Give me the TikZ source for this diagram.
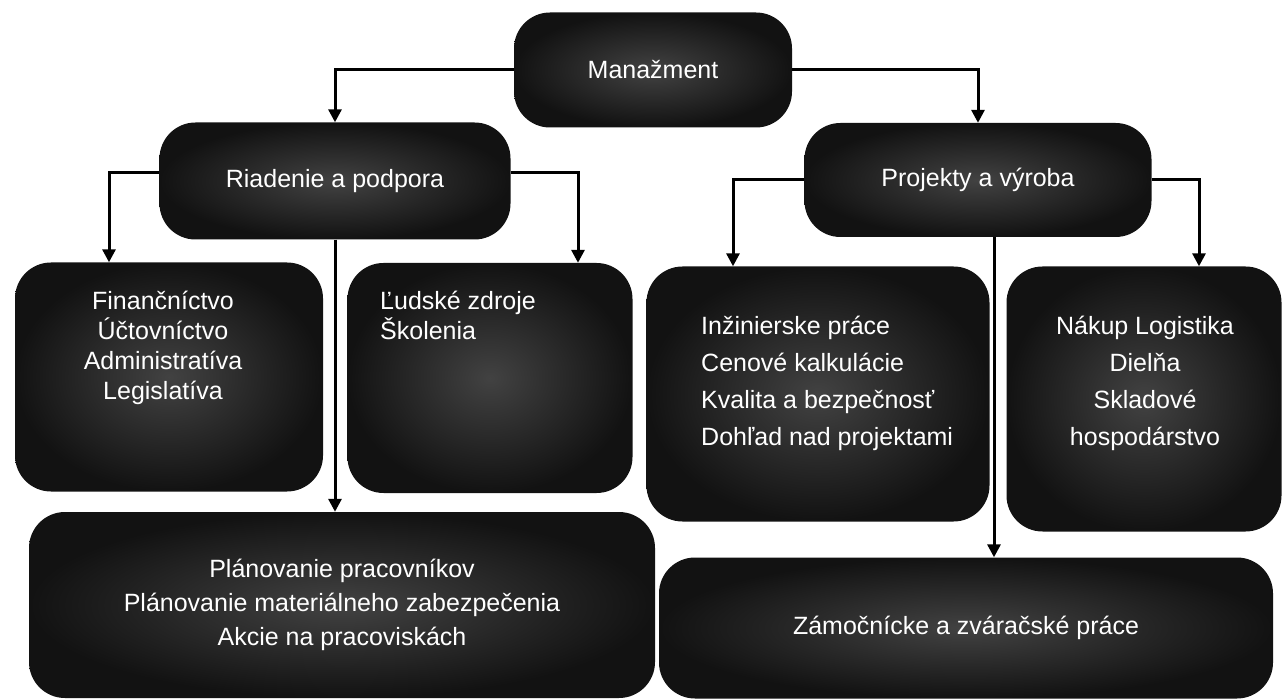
\documentclass[tikz,border=0pt]{standalone}
\usepackage{fontspec}
\setmainfont{Liberation Sans}
\usepackage{tikz}
\usetikzlibrary{arrows.meta,shapes,positioning}
\usepackage{xcolor}
\definecolor{boxdark}{RGB}{18,18,18}
\definecolor{boxmid}{RGB}{66,66,66}
\tikzstyle{box} = [rounded corners=36pt, inner sep=0pt, inner color=boxmid, outer color=boxdark, text=white, align=center, font=\fontsize{25}{34}\selectfont]
\tikzstyle{list} = [inner sep=0pt, text=white, font=\fontsize{25}{30}\selectfont]
\tikzstyle{widelist} = [inner sep=0pt, text=white, font=\fontsize{25}{37}\selectfont]
\tikzstyle{arrow} = [line width=3pt,-{Triangle[width=13pt,length=13pt]},color=black]

\begin{document}
\begin{tikzpicture}[x=1pt,y=-1pt]
\useasboundingbox (0,0) rectangle (1283,700);
% top level
\node[box, minimum width=278pt, minimum height=115pt] (man) at (653,70) {Manažment};
\node[box, minimum width=351pt, minimum height=117pt] (riad) at (335,181) {Riadenie a podpora};
\node[box, minimum width=347pt, minimum height=114pt] (proj) at (978,180) {Projekty a výroba};

% Riadenie a podpora column
\node[box, minimum width=308pt, minimum height=229pt] (fin) at (169,377) {};
\node[list, anchor=north, align=center] (fintext) at (163,291) {Finančníctvo\\Účtovníctvo\\Administratíva\\Legislatíva};
\node[box, minimum width=285pt, minimum height=230pt] (lud) at (490,378) {};
\node[list, anchor=north west, align=left] (ludtext) at (380,291) {Ľudské zdroje\\Školenia};
\node[box, minimum width=626pt, minimum height=186pt] (plan) at (342,605) {Plánovanie pracovníkov\\Plánovanie materiálneho zabezpečenia\\Akcie na pracoviskách};

% Projekty a vyroba column
\node[box, minimum width=343pt, minimum height=255pt] (inz) at (818,394) {};
\node[widelist, anchor=north west, align=left] (inztext) at (701,316) {Inžinierske práce\\Cenové kalkulácie\\Kvalita a bezpečnosť\\Dohľad nad projektami};
\node[box, minimum width=275pt, minimum height=265pt] (nak) at (1144,399) {};
\node[widelist, anchor=north, align=center] (naktext) at (1145,316) {Nákup Logistika\\Dielňa\\Skladové\\hospodárstvo};
\node[box, minimum width=614pt, minimum height=141pt] (zam) at (966,628) {Zámočnícke a zváračské práce};

% connectors
\draw[arrow] (man.west) -| (riad.north);
\draw[arrow] (man.east) -| (proj.north);
\draw[arrow] ([yshift=8pt]riad.west) -| ([xshift=-60pt]fin.north);
\draw[arrow] ([yshift=8pt]riad.east) -| ([xshift=88pt]lud.north);
\draw[arrow] (riad.south) -- (riad.south |- plan.north);
\draw[arrow] (proj.west) -| ([xshift=-85pt]inz.north);
\draw[arrow] (proj.east) -| ([xshift=55pt]nak.north);
\draw[arrow] ([xshift=16pt]proj.south) -- ([xshift=16pt]proj.south |- zam.north);
\end{tikzpicture}
\end{document}
